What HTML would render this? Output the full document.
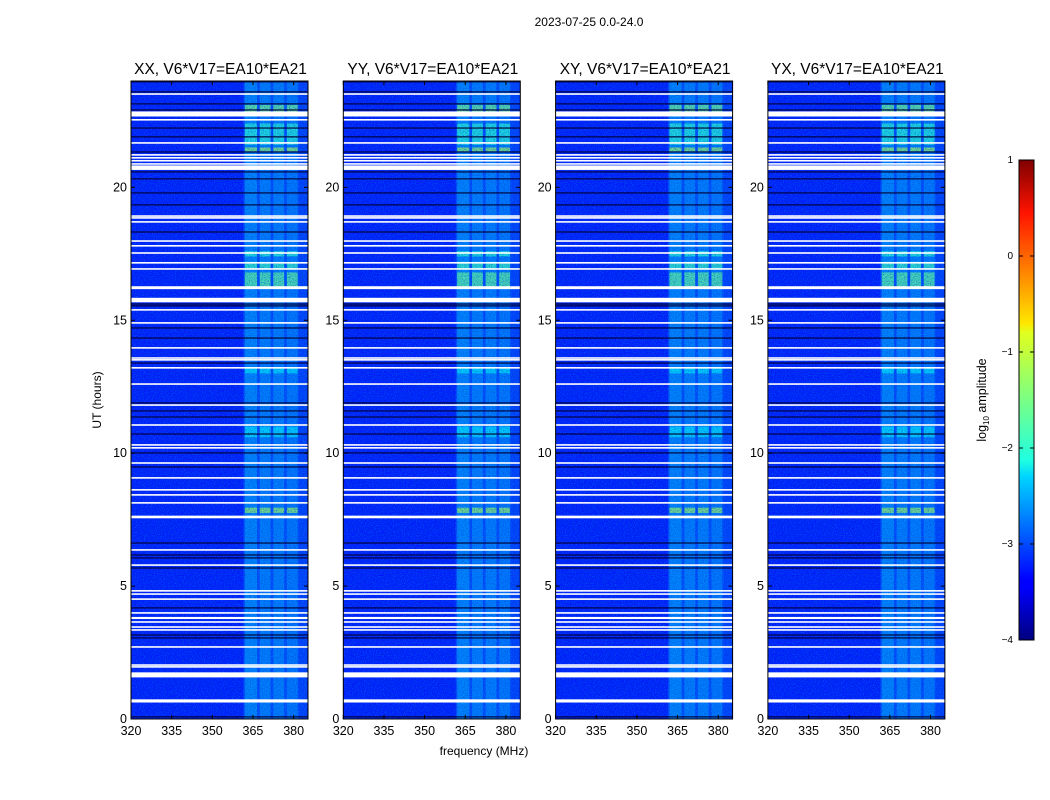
<!DOCTYPE html>
<html><head><meta charset="utf-8">
<style>
html,body{margin:0;padding:0;background:#fff;}
svg{display:block;font-family:"Liberation Sans","DejaVu Sans",sans-serif;}
</style></head>
<body>
<svg id="chart" width="1050" height="800" viewBox="0 0 1050 800">
<defs>
<filter id="grain" x="0" y="0" width="100%" height="100%">
<feTurbulence type="fractalNoise" baseFrequency="0.9" numOctaves="1" seed="3"/>
<feColorMatrix type="matrix" values="0 0 0 0 0  0 0 0 0 0.55  0 0 0 0 1  1.8 0 0 0 -0.8"/>
</filter>
<filter id="grain2" x="0" y="0" width="100%" height="100%">
<feTurbulence type="fractalNoise" baseFrequency="0.85" numOctaves="1" seed="11"/>
<feColorMatrix type="matrix" values="0 0 0 0 0  0 0 0 0 0.05  0 0 0 0 0.55  1.8 0 0 0 -0.75"/>
</filter>
<linearGradient id="jet" x1="0" y1="1" x2="0" y2="0">
<stop offset="0" stop-color="#00007f"/>
<stop offset="0.11" stop-color="#0000ff"/>
<stop offset="0.125" stop-color="#0000ff"/>
<stop offset="0.34" stop-color="#00d4ff"/>
<stop offset="0.375" stop-color="#1fffe0"/>
<stop offset="0.64" stop-color="#e0ff1f"/>
<stop offset="0.66" stop-color="#ffe600"/>
<stop offset="0.89" stop-color="#ff1300"/>
<stop offset="1" stop-color="#7f0000"/>
</linearGradient>
</defs>
<text x="589" y="26" font-size="12" text-anchor="middle">2023-07-25 0.0-24.0</text>
<text x="484" y="755" font-size="12" text-anchor="middle">frequency (MHz)</text>
<text transform="translate(101,400) rotate(-90)" font-size="12" text-anchor="middle">UT (hours)</text>
<g id="panels"></g>
<g id="cbar"></g>
</svg>
<script>
const panelTitles = ["XX, V6*V17=EA10*EA21","YY, V6*V17=EA10*EA21","XY, V6*V17=EA10*EA21","YX, V6*V17=EA10*EA21"];
const xTicks = [320,335,350,365,380];
const yTicks = [0,5,10,15,20];
const baseLevel = -3.25;
// frequency bands (MHz) and log10 amplitude levels
const bandStart = [361.5,362,367.5,372.5,377.5,382];
const bandEnd   = [385,366.5,371.5,376.5,381.5,385];
const bandLevel = [-2.9,-2.6,-2.65,-2.65,-2.7,-3.1];
// bright bursts in the sub-bands (hours)
const burstStart = [22.8,21.6,21.35,16.2,16.9,17.4,7.75,13.0,10.6];
const burstEnd   = [23.1,22.4,21.5,16.8,17.2,17.6,7.95,13.2,11.0];
const burstLevel = [-1.5,-1.9,-1.3,-1.6,-1.8,-1.9,-1.3,-2.2,-2.2];
// flagged (blank) time rows: centre hour and thickness in hours
const flagHour = [23.51,22.76,22.54,21.67,21.22,21.11,21.0,20.88,20.74,18.92,18.85,18.70,17.98,17.80,17.53,17.16,16.93,16.25,16.2,15.76,15.39,14.90,13.96,13.58,13.51,13.21,12.60,11.81,11.06,10.31,10.20,9.63,9.07,8.62,8.43,8.13,7.60,6.36,5.79,4.82,4.70,4.51,3.99,3.80,3.65,3.46,3.35,2.71,2.03,1.96,1.66,0.68];
const flagWidth = [0.06,0.19,0.05,0.05,0.04,0.04,0.04,0.04,0.17,0.05,0.05,0.05,0.05,0.05,0.05,0.05,0.05,0.05,0.04,0.17,0.05,0.05,0.05,0.04,0.04,0.05,0.05,0.05,0.06,0.05,0.05,0.05,0.05,0.05,0.05,0.05,0.1,0.05,0.05,0.05,0.04,0.05,0.05,0.08,0.04,0.05,0.04,0.06,0.05,0.04,0.19,0.12];
// dark (low amplitude) time rows
const darkHour = [23.97,23.59,23.14,22.91,22.23,21.90,21.33,20.58,20.32,19.79,19.34,18.32,15.61,15.54,14.71,14.33,13.39,11.89,11.59,11.36,10.72,10.01,9.48,6.62,6.17,6.06,5.68,4.18,3.16,3.05,0.08];
const cbarTicks = [1,0,-1,-2,-3,-4];

const NS="http://www.w3.org/2000/svg";
function mk(tag, attrs, parent){const e=document.createElementNS(NS,tag);for(const k in attrs)e.setAttribute(k,attrs[k]);parent.appendChild(e);return e;}
function jet(v){const t=Math.max(0,Math.min(1,(v+4)/5));const c=x=>Math.round(255*Math.max(0,Math.min(1,1.5-Math.abs(4*t-x))));return `rgb(${c(3)},${c(2)},${c(1)})`;}

const PT=81, PB=719, PW=177, FMIN=320, FMAX=385.3, HMAX=24;
const panelsG=document.getElementById('panels');
panelTitles.forEach((title,i)=>{
  const L=131+i*212.3;
  const xs=f=>L+(f-FMIN)/(FMAX-FMIN)*PW;
  const ys=h=>PB-(h/HMAX)*(PB-PT);
  const g=mk('g',{},panelsG);
  
  
  const t=mk('text',{x:L+PW/2+1,y:74,'font-size':'15.5','text-anchor':'middle'},g);
  t.textContent=title;
  
  
  const bg=mk('rect',{x:L,y:PT,width:PW,height:PB-PT,fill:jet(baseLevel)},g);
  
  
  bandStart.forEach((s,k)=>{
    const r=mk('rect',{x:xs(s),y:PT,width:xs(bandEnd[k])-xs(s),height:PB-PT,fill:jet(bandLevel[k]),opacity:0.65},g);
    
    
  });
  burstStart.forEach((s,k)=>{
    for(let b=1;b<5;b++){
      const r=mk('rect',{x:xs(bandStart[b]),y:ys(burstEnd[k]),width:xs(bandEnd[b])-xs(bandStart[b]),height:ys(s)-ys(burstEnd[k]),fill:jet(burstLevel[k]),opacity:0.7},g);
      
      
    }
  });
  mk('rect',{x:L,y:PT,width:PW,height:PB-PT,filter:'url(#grain)',opacity:0.55},g);
  mk('rect',{x:L,y:PT,width:PW,height:PB-PT,filter:'url(#grain2)',opacity:0.8},g);
  darkHour.forEach(h=>{
    const r=mk('rect',{x:L,y:ys(h)-0.7,width:PW,height:1.4,fill:'#000033',opacity:0.8},g);
    
    
  });
  flagHour.forEach((h,k)=>{
    const hh=Math.max(1.6,flagWidth[k]*(PB-PT)/HMAX);
    const r=mk('rect',{x:L,y:ys(h)-hh/2,width:PW,height:hh,fill:'#ffffff'},g);
    
    
  });
  const fr=mk('rect',{x:L,y:PT,width:PW,height:PB-PT,fill:'none',stroke:'#000','stroke-width':1},g);
  
  
  xTicks.forEach(v=>{
    const x=xs(v);
    mk('line',{x1:x,y1:PB,x2:x,y2:PB-4,stroke:'#000'},g);
    mk('line',{x1:x,y1:PT,x2:x,y2:PT+4,stroke:'#000'},g);
    const tl=mk('text',{x:x,y:PB+16,'font-size':'12.5','text-anchor':'middle'},g);
    tl.textContent=v;
    
    
  });
  yTicks.forEach(v=>{
    const y=ys(v);
    mk('line',{x1:L,y1:y,x2:L+4,y2:y,stroke:'#000'},g);
    mk('line',{x1:L+PW,y1:y,x2:L+PW-4,y2:y,stroke:'#000'},g);
    const tl=mk('text',{x:L-4,y:y+4,'font-size':'12.5','text-anchor':'end'},g);
    tl.textContent=v;
    
    
  });
});

const cb=document.getElementById('cbar');
const CT=160, CBt=640, CX=1019, CW=15;
const cr=mk('rect',{x:CX,y:CT,width:CW,height:CBt-CT,fill:'url(#jet)',stroke:'#000','stroke-width':1},cb);


cbarTicks.forEach(v=>{
  const y=CT+(1-v)/5*(CBt-CT);
  mk('line',{x1:CX,y1:y,x2:CX+4,y2:y,stroke:'#000'},cb);
  mk('line',{x1:CX+CW,y1:y,x2:CX+CW-4,y2:y,stroke:'#000'},cb);
  const tl=mk('text',{x:CX-6,y:y+3,'font-size':'10','text-anchor':'end'},cb);
  tl.textContent=v<0?'\u2212'+(-v):String(v);
  
  
});
const cl=mk('text',{transform:'translate(986,400) rotate(-90)','font-size':'12.5','text-anchor':'middle'},cb);
cl.innerHTML='log<tspan font-size="8" dy="3">10</tspan><tspan dy="-3"> amplitude</tspan>';


</script>
</body></html>
